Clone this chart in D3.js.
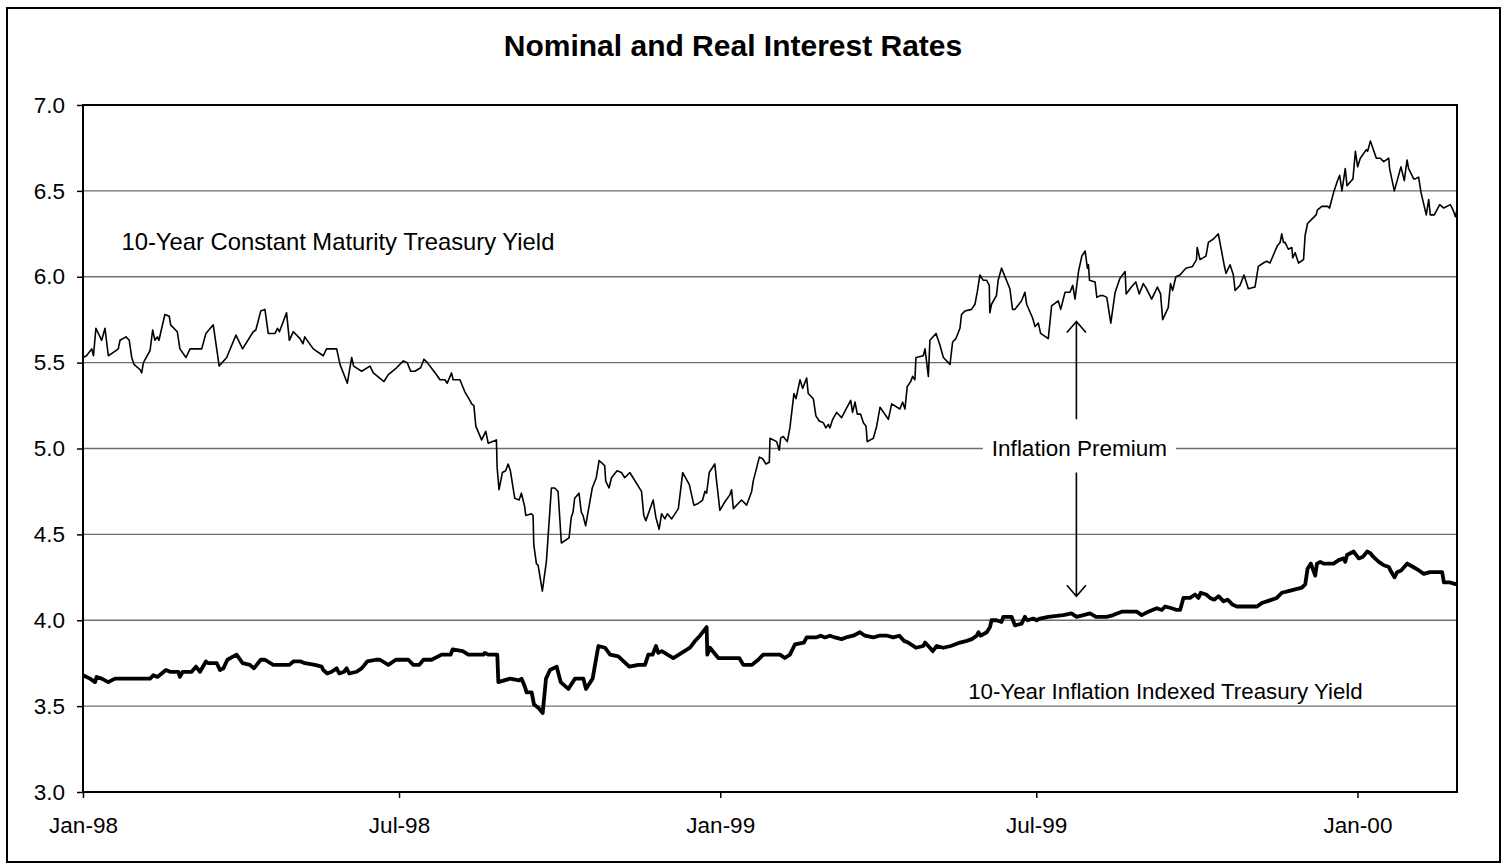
<!DOCTYPE html>
<html>
<head>
<meta charset="utf-8">
<script src="https://cdn.jsdelivr.net/npm/d3@7"></script>
<style>
    body { margin: 0; background: #fff; }
    svg text { font-family: "Liberation Sans", Arial, sans-serif; fill: #000; }
</style>
</head>
<body>
<div id="chart"></div>
<script>
// x values are days after 1 Jan 1998
var nominalYield = [
    [0,5.53],[2,5.54],[5,5.58],[6,5.54],[7.4,5.70],[10.7,5.63],[12.6,5.70],[14.5,5.54],[17.4,5.56],[20.2,5.58],
    [21.2,5.63],[24.6,5.65],[26.5,5.63],[27.9,5.53],[29.2,5.49],[32.6,5.46],[33.6,5.44],[34.6,5.50],[38.4,5.57],
    [39.9,5.69],[41.2,5.63],[42.6,5.65],[43.5,5.63],[46.9,5.78],[49.4,5.77],[50.2,5.72],[54,5.68],[55.5,5.58],
    [59,5.53],[61.3,5.58],[68,5.58],[70.4,5.67],[74.6,5.72],[78,5.48],[82.3,5.53],[87.6,5.66],[91.4,5.58],
    [97.5,5.68],[99,5.69],[101.8,5.80],[104.2,5.81],[106.1,5.67],[110,5.67],[111.4,5.70],[112.5,5.68],[116.6,5.79],
    [118.2,5.63],[120.5,5.68],[124.3,5.64],[126,5.61],[127,5.65],[131.9,5.58],[137.6,5.54],[139.5,5.58],[145.3,5.58],
    [147.2,5.49],[151.4,5.38],[153.9,5.53],[155,5.48],[159.6,5.45],[164.4,5.48],[166.3,5.44],[172.4,5.39],[174.9,5.43],
    [179.6,5.47],[183.5,5.51],[185.7,5.50],[187.7,5.45],[190.1,5.45],[193.4,5.47],[195.3,5.52],[197.2,5.50],[201,5.45],
    [204.5,5.40],[207.3,5.40],[208.6,5.38],[211.1,5.44],[212,5.40],[215.9,5.40],[218.7,5.33],[221.6,5.28],[222.6,5.26],
    [223.9,5.25],[225,5.13],[228.3,5.05],[230.7,5.10],[232.1,5.03],[236.8,5.05],[237.2,4.89],[238.3,4.76],[240.2,4.86],
    [242.1,4.87],[243.5,4.91],[244.8,4.87],[247.3,4.71],[249.8,4.70],[251.1,4.74],[253,4.66],[253.6,4.61],[256.9,4.62],
    [257.8,4.61],[258.2,4.44],[259.7,4.33],[260.7,4.32],[263.1,4.17],[265.4,4.34],[268.3,4.77],[270.2,4.77],[272.1,4.75],
    [274,4.45],[278.4,4.48],[279.7,4.60],[280.7,4.63],[281.6,4.71],[284.1,4.74],[285.4,4.63],[286.4,4.61],[287.9,4.55],
    [291.7,4.77],[294,4.83],[295.6,4.93],[298.8,4.90],[299.4,4.81],[301.3,4.77],[302.7,4.83],[305.9,4.87],[308.4,4.86],
    [310.3,4.83],[313.2,4.86],[319.9,4.75],[321.2,4.61],[322.4,4.58],[326.6,4.70],[328.1,4.60],[330,4.53],[331.4,4.62],
    [333.3,4.59],[334.7,4.62],[337.2,4.59],[341,4.65],[343.5,4.86],[347.3,4.79],[349.9,4.67],[352.4,4.68],[354.9,4.70],
    [356.2,4.75],[357.2,4.74],[358.7,4.86],[361.9,4.91],[362.9,4.81],[364.8,4.64],[367.7,4.69],[370.5,4.73],[371.5,4.76],
    [372.5,4.65],[377.2,4.70],[380.1,4.67],[383,4.75],[383.9,4.81],[387.4,4.95],[389.3,4.94],[391.2,4.91],[393.1,4.92],
    [393.5,5.06],[397.3,5.04],[398.8,4.99],[399.6,5.06],[401.1,5.07],[403.4,5.04],[404.9,5.12],[407.2,5.32],[408.4,5.29],
    [410.7,5.40],[412.2,5.35],[414.5,5.41],[415.4,5.32],[418.3,5.29],[419.8,5.19],[421.7,5.16],[424,5.15],[425.5,5.12],
    [426.9,5.14],[427.8,5.12],[429.4,5.17],[431.7,5.21],[434.5,5.18],[439.7,5.28],[440.8,5.21],[442.2,5.27],[443.5,5.20],
    [445.4,5.20],[447,5.15],[448.5,5.13],[449.2,5.04],[452.7,5.06],[454.6,5.13],[456.5,5.24],[461.3,5.17],[463.2,5.26],
    [467.9,5.23],[469.5,5.27],[470.8,5.23],[472.1,5.36],[474.1,5.39],[475.2,5.42],[476.5,5.40],[477.1,5.53],[481.3,5.54],
    [482.3,5.58],[484.2,5.42],[485.1,5.63],[488.6,5.67],[490.9,5.60],[492.8,5.53],[496.6,5.49],[498.1,5.62],[500,5.64],
    [502.3,5.70],[503.2,5.78],[505.1,5.80],[508.9,5.81],[510.9,5.84],[512.2,5.91],[513.7,6.01],[515.6,5.98],[517.5,5.98],
    [519.1,5.95],[519.4,5.79],[520.4,5.84],[523.2,5.89],[524.2,5.98],[526.1,6.05],[530.9,5.93],[532.4,5.81],[533.8,5.81],
    [537.6,5.86],[539.5,5.91],[540.5,5.84],[543.9,5.76],[545.3,5.71],[547.2,5.73],[548.5,5.67],[552.9,5.64],[554.8,5.83],
    [558.6,5.86],[560,5.81],[562.5,5.91],[565.3,5.91],[566.9,5.95],[568.2,5.87],[570.2,6.03],[572.1,6.12],[574,6.15],
    [575.3,6.05],[575.9,6.07],[576.5,5.98],[579.7,5.97],[580.7,5.88],[582.6,5.89],[584.4,5.89],[586.4,5.88],[588.7,5.73],
    [591.2,5.91],[593.9,5.99],[596.9,6.03],[597.5,5.90],[600.5,5.94],[603,5.97],[605,5.90],[607.3,5.96],[609.2,5.93],
    [612.1,5.87],[615.4,5.94],[617.2,5.90],[618.4,5.75],[621.6,5.82],[622.9,5.96],[624.1,5.92],[626,6.00],[628.3,6.01],
    [631.7,6.05],[635.5,6.06],[637.8,6.10],[638.2,6.17],[639.8,6.10],[643.2,6.12],[644.6,6.20],[647.5,6.22],[650.3,6.25],
    [653.6,6.07],[654.7,6.02],[657,6.07],[658.9,6.01],[659.9,5.92],[662.7,5.95],[665,6.01],[667.5,5.93],[671.3,5.94],
    [673.2,6.06],[676.1,6.08],[678,6.09],[679.9,6.08],[682.8,6.15],[684.1,6.18],[685.7,6.20],[686.6,6.25],[687.6,6.20],
    [688.5,6.20],[690.4,6.16],[692.4,6.17],[692.9,6.11],[694.3,6.14],[696.2,6.08],[699.1,6.10],[700,6.24],[701.4,6.31],
    [703.3,6.33],[706.3,6.36],[707.1,6.39],[709.6,6.41],[712.9,6.41],[714,6.40],[716.3,6.49],[718.6,6.56],[719.8,6.59],
    [721.1,6.50],[723,6.63],[724,6.53],[727.4,6.57],[728.8,6.73],[730.1,6.64],[731.6,6.69],[735.1,6.74],[735.8,6.73],
    [737.4,6.79],[740.8,6.69],[743.1,6.69],[745,6.67],[747.9,6.69],[748.4,6.63],[751.1,6.50],[753,6.57],[754.9,6.64],
    [756.8,6.56],[758.4,6.68],[759.3,6.63],[762.2,6.57],[763.1,6.57],[765,6.58],[766.4,6.49],[769.4,6.36],[770.8,6.45],
    [771.7,6.36],[774,6.36],[777.1,6.42],[779.4,6.40],[783.2,6.42],[784.7,6.39],[786.1,6.35],[787,6.39]
];

var realYield = [
    [0,3.68],[4,3.66],[6.9,3.64],[7.8,3.67],[10.7,3.66],[14.5,3.64],[18.3,3.66],[38.4,3.66],[40.3,3.68],[42.6,3.67],
    [47.5,3.71],[49.8,3.70],[54.6,3.70],[55.5,3.67],[57.1,3.70],[62.2,3.70],[64.7,3.73],[67,3.70],[70.4,3.76],[71.8,3.75],
    [76.6,3.75],[78.5,3.71],[80.4,3.72],[82.7,3.77],[88,3.80],[91.4,3.75],[95.6,3.74],[97.9,3.72],[101.8,3.77],[104.2,3.77],
    [109,3.74],[118.2,3.74],[120.5,3.76],[124.7,3.76],[127.1,3.75],[132.8,3.74],[136.7,3.73],[137.6,3.71],[139.9,3.69],
    [142.4,3.70],[145.3,3.72],[146.8,3.69],[149.5,3.70],[151,3.72],[152.5,3.69],[156.7,3.70],[159.6,3.72],[162.8,3.76],
    [167.8,3.77],[170.1,3.77],[174.9,3.74],[179.2,3.77],[186.3,3.77],[189.2,3.74],[192.6,3.74],[195,3.77],[199.7,3.77],
    [205.4,3.80],[210.6,3.80],[211.7,3.83],[217.5,3.82],[220.7,3.80],[229.3,3.80],[230.2,3.81],[232.1,3.80],[237.3,3.80],
    [237.9,3.64],[244.6,3.66],[249.9,3.65],[251.2,3.66],[253.2,3.61],[254.1,3.58],[257,3.58],[258.3,3.51],[260.8,3.49],
    [263.3,3.46],[265.2,3.66],[267.5,3.71],[271.3,3.73],[273.6,3.64],[278,3.60],[281.8,3.66],[286.6,3.66],[288.1,3.60],
    [291.9,3.66],[295.2,3.85],[299,3.84],[301.9,3.80],[306.6,3.79],[312.9,3.73],[318.1,3.74],[321.9,3.74],[323.8,3.80],
    [326.3,3.80],[328.2,3.85],[329.5,3.81],[331.5,3.82],[338.1,3.78],[342.9,3.81],[347.7,3.84],[350.6,3.88],[353.4,3.91],
    [357.2,3.96],[357.6,3.80],[359.1,3.84],[363.9,3.78],[370.6,3.78],[372.9,3.78],[375.9,3.78],[378.2,3.74],[383,3.74],
    [386.8,3.77],[389.6,3.80],[399.2,3.80],[402,3.78],[404.9,3.80],[407.8,3.86],[412.9,3.87],[414.5,3.90],[419.8,3.90],
    [422.5,3.91],[425,3.90],[427.8,3.91],[430.7,3.90],[434.5,3.89],[437,3.90],[441.2,3.91],[445,3.93],[447.9,3.91],
    [452.7,3.90],[456.1,3.91],[460.7,3.91],[464.1,3.90],[467.6,3.91],[470.2,3.88],[472.7,3.87],[477.1,3.84],[481.3,3.85],
    [482.3,3.87],[485.1,3.84],[486.7,3.82],[489,3.85],[492.8,3.84],[497,3.85],[502.4,3.87],[506.2,3.88],[509.1,3.89],
    [511.9,3.91],[512.9,3.93],[514.2,3.91],[517.7,3.93],[519.5,3.96],[520.4,4.00],[523.3,4.00],[526.1,3.99],[527.1,4.02],
    [531.9,4.02],[533.8,3.97],[537.6,3.98],[539.5,4.02],[540.9,4.00],[544.3,4.01],[546.2,4.00],[548.1,4.01],[552.9,4.02],
    [561.5,4.03],[566.2,4.04],[569.1,4.02],[573,4.03],[576.8,4.04],[580.2,4.02],[583.5,4.02],[586.3,4.02],[590.1,4.03],
    [594.9,4.05],[599.7,4.05],[603.5,4.05],[606.4,4.03],[610.2,4.05],[615,4.07],[617.9,4.06],[619.8,4.08],[623.6,4.07],
    [626.5,4.06],[628.4,4.06],[630.3,4.13],[634.1,4.13],[637,4.15],[638.9,4.13],[640.2,4.16],[643.3,4.15],[645.6,4.13],
    [647.9,4.12],[650.4,4.14],[653.3,4.11],[655.6,4.12],[658.6,4.09],[660.9,4.08],[672.4,4.08],[675.2,4.10],[678.1,4.11],
    [681,4.12],[683.8,4.13],[686.7,4.16],[690.5,4.17],[694.3,4.18],[698.2,4.19],[700.1,4.21],[701.4,4.30],[703.3,4.33],
    [705.8,4.26],[706.8,4.33],[708.7,4.34],[710.6,4.33],[716.3,4.33],[719.2,4.35],[722.1,4.36],[723,4.34],[724,4.38],
    [727.8,4.40],[730.7,4.36],[733.2,4.37],[735.5,4.40],[737.4,4.39],[739,4.37],[742.2,4.34],[745.1,4.32],[748,4.31],
    [748.9,4.29],[751.2,4.25],[752.7,4.28],[755,4.29],[758.5,4.33],[761.9,4.31],[765.2,4.29],[768,4.27],[771.5,4.28],
    [778.5,4.28],[779.5,4.22],[783,4.22],[786.2,4.21],[787,4.21]
];

var yTicks = [3.0, 3.5, 4.0, 4.5, 5.0, 5.5, 6.0, 6.5, 7.0];
var xTickLabels = ["Jan-98", "Jul-98", "Jan-99", "Jul-99", "Jan-00"];
var title = "Nominal and Real Interest Rates";
var nominalLabel = "10-Year Constant Maturity Treasury Yield";
var realLabel = "10-Year Inflation Indexed Treasury Yield";
var premiumLabel = "Inflation Premium";
// annotation anchors in data units: [day, yield]
var nominalLabelAt = [22, 6.2];
var realLabelAt = [733, 3.5];
var premiumAt = [569, 5.0];
var arrowUp = [5.17, 5.74];
var arrowDown = [4.86, 4.14];

var startDate = new Date(1998, 0, 1);
function toDate(day) { return new Date(startDate.getTime() + day * 864e5); }

class RateChart {

    constructor(DOMElement, width, height, margins) {
        this.DOMElement = DOMElement;
        this.width = width;
        this.height = height;
        this.margins = margins;
    }

    draw() {
        var m = this.margins;
        this.w = this.width - (m.left + m.right);
        this.h = this.height - (m.top + m.bottom);

        var svg = d3.select(this.DOMElement)
            .append("svg")
            .attr("width", this.width)
            .attr("height", this.height);

        // outer chart frame
        svg.append("rect")
            .attr("x", 7).attr("y", 8)
            .attr("width", 1493).attr("height", 854)
            .attr("fill", "none")
            .attr("stroke", "#000")
            .attr("stroke-width", 2);

        svg.append("text")
            .attr("x", 733).attr("y", 56)
            .attr("text-anchor", "middle")
            .style("font-size", "30px")
            .style("font-weight", "bold")
            .text(title);

        var g = svg.append("g")
            .attr("transform", "translate(" + m.left + "," + m.top + ")");

        var x = d3.scaleTime()
            .range([0, this.w])
            .domain([startDate, new Date(2000, 1, 27)]);
        var y = d3.scaleLinear()
            .range([this.h, 0])
            .domain([3, 7]);

        // gridlines
        g.selectAll(".grid")
            .data(yTicks.filter(d => d > 3 && d < 7))
            .enter().append("line")
            .attr("class", "grid")
            .attr("x1", 0).attr("x2", this.w)
            .attr("y1", d => y(d)).attr("y2", d => y(d))
            .attr("stroke", "#6e6e6e")
            .attr("stroke-width", 1.3);

        var xAxis = g.append("g")
            .attr("transform", "translate(0," + this.h + ")")
            .call(d3.axisBottom(x)
                .tickValues(xTickLabels.map(s => d3.timeParse("%b-%y")(s)))
                .tickFormat(d3.timeFormat("%b-%y"))
                .tickSize(6).tickPadding(19));
        var yAxis = g.append("g")
            .call(d3.axisLeft(y)
                .tickValues(yTicks)
                .tickFormat(d3.format(".1f"))
                .tickSize(6).tickPadding(12));

        [xAxis, yAxis].forEach(function(a) {
            a.select(".domain").remove();
            a.selectAll(".tick line").attr("stroke", "#000").attr("stroke-width", 1.5);
            a.selectAll(".tick text")
                .style("font-size", "22.5px")
                .style("font-family", "'Liberation Sans', Arial, sans-serif")
                .attr("fill", "#000");
        });

        // plot frame
        g.append("rect")
            .attr("width", this.w).attr("height", this.h)
            .attr("fill", "none")
            .attr("stroke", "#000")
            .attr("stroke-width", 2);

        var line = d3.line()
            .x(d => x(toDate(d[0])))
            .y(d => y(d[1]));

        g.append("path")
            .datum(nominalYield)
            .attr("d", line)
            .attr("fill", "none")
            .attr("stroke", "#000")
            .attr("stroke-width", 1.6)
            .attr("stroke-linejoin", "round");

        g.append("path")
            .datum(realYield)
            .attr("d", line)
            .attr("fill", "none")
            .attr("stroke", "#000")
            .attr("stroke-width", 3.8)
            .attr("stroke-linejoin", "round");

        // annotations
        g.append("text")
            .attr("x", x(toDate(nominalLabelAt[0])))
            .attr("y", y(nominalLabelAt[1]))
            .attr("dy", "0.3em")
            .style("font-size", "23.8px")
            .text(nominalLabel);

        g.append("text")
            .attr("x", x(toDate(realLabelAt[0])))
            .attr("y", y(realLabelAt[1]))
            .attr("dy", "-0.3em")
            .attr("text-anchor", "end")
            .style("font-size", "22.3px")
            .text(realLabel);

        var px = x(toDate(premiumAt[0]));
        var pt = g.append("text")
            .attr("x", px + 3)
            .attr("y", y(premiumAt[1]))
            .attr("dy", "0.35em")
            .attr("text-anchor", "middle")
            .style("font-size", "22.5px")
            .text(premiumLabel);
        var bb = pt.node().getBBox();
        g.insert("rect", () => pt.node())
            .attr("x", bb.x - 9).attr("y", bb.y)
            .attr("width", bb.width + 18).attr("height", bb.height)
            .attr("fill", "#fff");

        function arrow(from, to) {
            var y0 = y(from), y1 = y(to);
            var dir = y1 < y0 ? 1 : -1;
            g.append("path")
                .attr("d", "M" + px + "," + y0 + "V" + y1 +
                    "M" + (px - 9.5) + "," + (y1 + dir * 11) + "L" + px + "," + y1 +
                    "L" + (px + 9.5) + "," + (y1 + dir * 11))
                .attr("fill", "none")
                .attr("stroke", "#000")
                .attr("stroke-width", 1.6);
        }
        arrow(arrowUp[0], arrowUp[1]);
        arrow(arrowDown[0], arrowDown[1]);
    }
}

var chart = new RateChart("#chart", 1506, 865, {top: 105, right: 49, bottom: 73, left: 83});
chart.draw();
</script>
</body>
</html>
